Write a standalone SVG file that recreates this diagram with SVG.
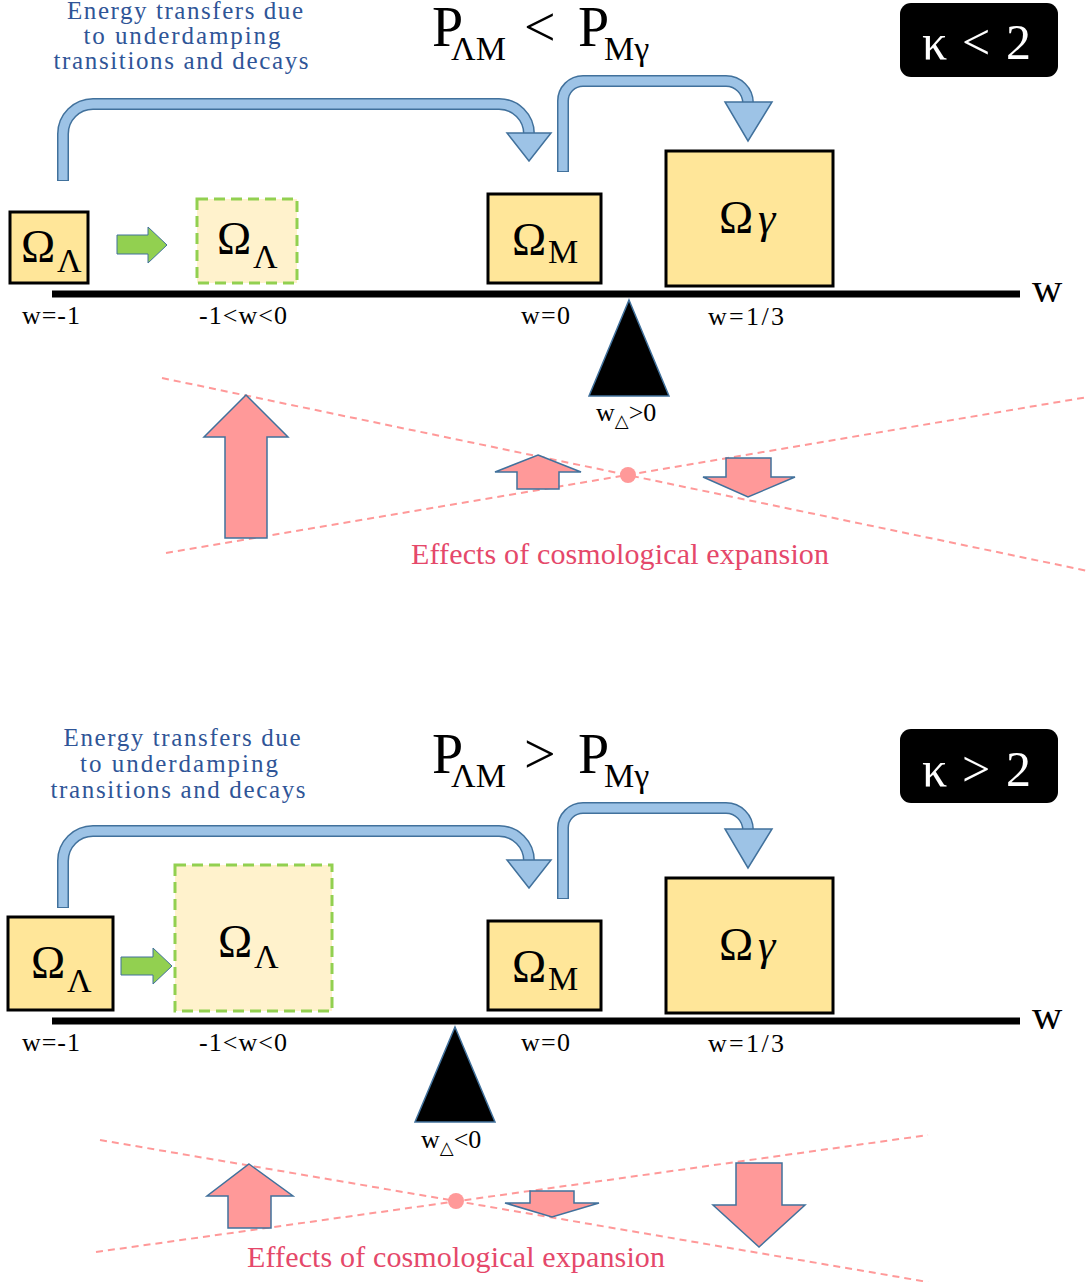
<svg xmlns="http://www.w3.org/2000/svg" width="1088" height="1282" viewBox="0 0 1088 1282">
<style>
  text { font-family: "Liberation Serif", "DejaVu Serif", serif; }
  .box { fill: #FFE699; stroke: #000; stroke-width: 3; }
  .dbox { fill: #FFF2CC; stroke: #92D050; stroke-width: 3; stroke-dasharray: 11 6; }
  .om { font-size: 46px; fill: #000; }
  .sub { font-size: 34px; }
  .lbl { font-size: 26px; fill: #000; }
  .blue { font-size: 25px; fill: #2F5597; text-anchor: middle; }
  .pinkt { font-size: 30px; fill: #E5486A; }
  .axis { stroke: #000; stroke-width: 7; }
  .sh-o { fill: none; stroke: #41719C; stroke-width: 12; }
  .sh-i { fill: none; stroke: #9DC3E6; stroke-width: 9; }
  .head { fill: #9DC3E6; stroke: #41719C; stroke-width: 1.5; }
  .garr { fill: #92D050; stroke: #41719C; stroke-width: 1; }
  .parr { fill: #FF9999; stroke: #41719C; stroke-width: 1.5; }
  .dash { stroke: #FF9999; stroke-width: 2; stroke-dasharray: 7 5; fill: none; }
  .ful { fill: #000; stroke: #41719C; stroke-width: 1.5; }
  .kap { font-size: 50px; fill: #fff; }
</style>

<!-- ================= TOP PANEL ================= -->
<g id="top-caption">
  <text class="blue" x="185" y="19" textLength="236">Energy transfers due</text>
  <text class="blue" x="182" y="44" textLength="197">to underdamping</text>
  <text class="blue" x="181" y="69" textLength="255">transitions and decays</text>
</g>
<g id="top-title">
  <text font-size="56" y="46"><tspan x="432">P</tspan><tspan x="451" y="60" font-size="34">ΛM</tspan><tspan x="524" y="46">&lt;</tspan><tspan x="578" y="46">P</tspan><tspan x="604" y="60" font-size="34">Mγ</tspan></text>
</g>
<g id="top-kappa">
  <rect x="900" y="3" width="158" height="74" rx="11" fill="#000"/>
  <text class="kap" y="59"><tspan x="922">κ</tspan><tspan x="962">&lt;</tspan><tspan x="1006">2</tspan></text>
</g>

<g id="top-connectors">
  <path class="sh-o" d="M63,181 V134 A30,30 0 0 1 93,104 H499 A30,30 0 0 1 529,134"/>
  <path class="sh-i" d="M63,180 V134 A30,30 0 0 1 93,104 H499 A30,30 0 0 1 529,134"/>
  <polygon class="head" points="507,133 551,133 529,161"/>
  <path class="sh-o" d="M563,172 V101 A20,20 0 0 1 583,81 H726 A22,22 0 0 1 748,103"/>
  <path class="sh-i" d="M563,171 V101 A20,20 0 0 1 583,81 H726 A22,22 0 0 1 748,103"/>
  <polygon class="head" points="725,102 772,102 748,141"/>
  <polygon class="garr" points="117,235 148,235 148,227 167,245 148,263 148,254 117,254"/>
</g>

<g id="top-omegaL">
  <rect class="box" x="10" y="212" width="78" height="71"/>
  <text class="om" x="21" y="262">Ω<tspan class="sub" x="57" y="272">Λ</tspan></text>
</g>
<g id="top-omegaL-dashed">
  <rect class="dbox" x="197" y="199" width="100" height="84"/>
  <text class="om" x="217" y="254">Ω<tspan class="sub" x="253" y="268">Λ</tspan></text>
</g>
<g id="top-omegaM">
  <rect class="box" x="488" y="194" width="113" height="89"/>
  <text class="om" x="512" y="255">Ω<tspan class="sub" x="548" y="263" font-size="30">M</tspan></text>
</g>
<g id="top-omegaG">
  <rect class="box" x="666" y="151" width="167" height="135"/>
  <text class="om" x="719" y="233">Ω<tspan x="758" font-size="44" font-style="italic">γ</tspan></text>
</g>

<g id="top-axis">
  <line class="axis" x1="52" y1="294" x2="1020" y2="294"/>
  <text x="1032" y="302" font-size="42">w</text>
  <text class="lbl" x="22" y="324" textLength="58">w=-1</text>
  <text class="lbl" x="199" y="324" textLength="88">-1&lt;w&lt;0</text>
  <text class="lbl" x="521" y="324" textLength="49">w=0</text>
  <text class="lbl" x="708" y="325" textLength="76">w=1/3</text>
</g>
<g id="top-fulcrum">
  <polygon class="ful" points="629,300 669,396 589,396"/>
  <text class="lbl" x="596" y="421" font-size="27">w<tspan font-size="18" y="427">△</tspan><tspan y="421">&gt;0</tspan></text>
</g>

<g id="top-expansion">
  <line class="dash" x1="162" y1="378" x2="1088" y2="571"/>
  <line class="dash" x1="166" y1="553" x2="1088" y2="397"/>
  <circle cx="628" cy="475" r="8" fill="#FF9999"/>
  <polygon class="parr" points="246,395 288,437 267,437 267,538 225,538 225,437 204,437"/>
  <polygon class="parr" points="538,455 581,472 559,472 559,489 517,489 517,472 495,472"/>
  <polygon class="parr" points="726,458 771,458 771,477 795,477 748,497 703,477 726,477"/>
  <text class="pinkt" x="411" y="564" textLength="418">Effects of cosmological expansion</text>
</g>

<!-- ================= BOTTOM PANEL ================= -->
<g id="bot-caption">
  <text class="blue" x="182" y="746" textLength="237">Energy transfers due</text>
  <text class="blue" x="179" y="772" textLength="198">to underdamping</text>
  <text class="blue" x="178" y="798" textLength="255">transitions and decays</text>
</g>
<g id="bot-title">
  <text font-size="56" y="773"><tspan x="432">P</tspan><tspan x="451" y="787" font-size="34">ΛM</tspan><tspan x="524" y="773">&gt;</tspan><tspan x="578" y="773">P</tspan><tspan x="604" y="787" font-size="34">Mγ</tspan></text>
</g>
<g id="bot-kappa">
  <rect x="900" y="729" width="158" height="74" rx="11" fill="#000"/>
  <text class="kap" y="786"><tspan x="922">κ</tspan><tspan x="962">&gt;</tspan><tspan x="1006">2</tspan></text>
</g>

<g id="bot-connectors">
  <path class="sh-o" d="M63,908 V861 A30,30 0 0 1 93,831 H499 A30,30 0 0 1 529,861"/>
  <path class="sh-i" d="M63,907 V861 A30,30 0 0 1 93,831 H499 A30,30 0 0 1 529,861"/>
  <polygon class="head" points="507,860 551,860 529,888"/>
  <path class="sh-o" d="M563,899 V828 A20,20 0 0 1 583,808 H726 A22,22 0 0 1 748,830"/>
  <path class="sh-i" d="M563,898 V828 A20,20 0 0 1 583,808 H726 A22,22 0 0 1 748,830"/>
  <polygon class="head" points="725,829 772,829 748,868"/>
  <polygon class="garr" points="121,957 153,957 153,948 172,966 153,984 153,975 121,975"/>
</g>

<g id="bot-omegaL">
  <rect class="box" x="8" y="917" width="105" height="93"/>
  <text class="om" x="31" y="978">Ω<tspan class="sub" x="67" y="992">Λ</tspan></text>
</g>
<g id="bot-omegaL-dashed">
  <rect class="dbox" x="175" y="865" width="157" height="146"/>
  <text class="om" x="218" y="957">Ω<tspan class="sub" x="254" y="968">Λ</tspan></text>
</g>
<g id="bot-omegaM">
  <rect class="box" x="488" y="921" width="113" height="89"/>
  <text class="om" x="512" y="982">Ω<tspan class="sub" x="548" y="990" font-size="30">M</tspan></text>
</g>
<g id="bot-omegaG">
  <rect class="box" x="666" y="878" width="167" height="135"/>
  <text class="om" x="719" y="960">Ω<tspan x="758" font-size="44" font-style="italic">γ</tspan></text>
</g>

<g id="bot-axis">
  <line class="axis" x1="52" y1="1021" x2="1020" y2="1021"/>
  <text x="1032" y="1029" font-size="42">w</text>
  <text class="lbl" x="22" y="1051" textLength="58">w=-1</text>
  <text class="lbl" x="199" y="1051" textLength="88">-1&lt;w&lt;0</text>
  <text class="lbl" x="521" y="1051" textLength="49">w=0</text>
  <text class="lbl" x="708" y="1052" textLength="76">w=1/3</text>
</g>
<g id="bot-fulcrum">
  <polygon class="ful" points="455,1027 495,1122 415,1122"/>
  <text class="lbl" x="421" y="1148" font-size="27">w<tspan font-size="18" y="1154">△</tspan><tspan y="1148">&lt;0</tspan></text>
</g>

<g id="bot-expansion">
  <line class="dash" x1="100" y1="1140" x2="928" y2="1282"/>
  <line class="dash" x1="96" y1="1252" x2="928" y2="1135"/>
  <circle cx="456" cy="1201" r="8" fill="#FF9999"/>
  <polygon class="parr" points="249,1164 293,1196 271,1196 271,1228 228,1228 228,1196 207,1196"/>
  <polygon class="parr" points="530,1191 574,1191 574,1203 599,1203 552,1217 505,1203 530,1203"/>
  <polygon class="parr" points="736,1163 782,1163 782,1205 805,1205 759,1247 713,1205 736,1205"/>
  <text class="pinkt" x="247" y="1267" textLength="418">Effects of cosmological expansion</text>
</g>
</svg>
